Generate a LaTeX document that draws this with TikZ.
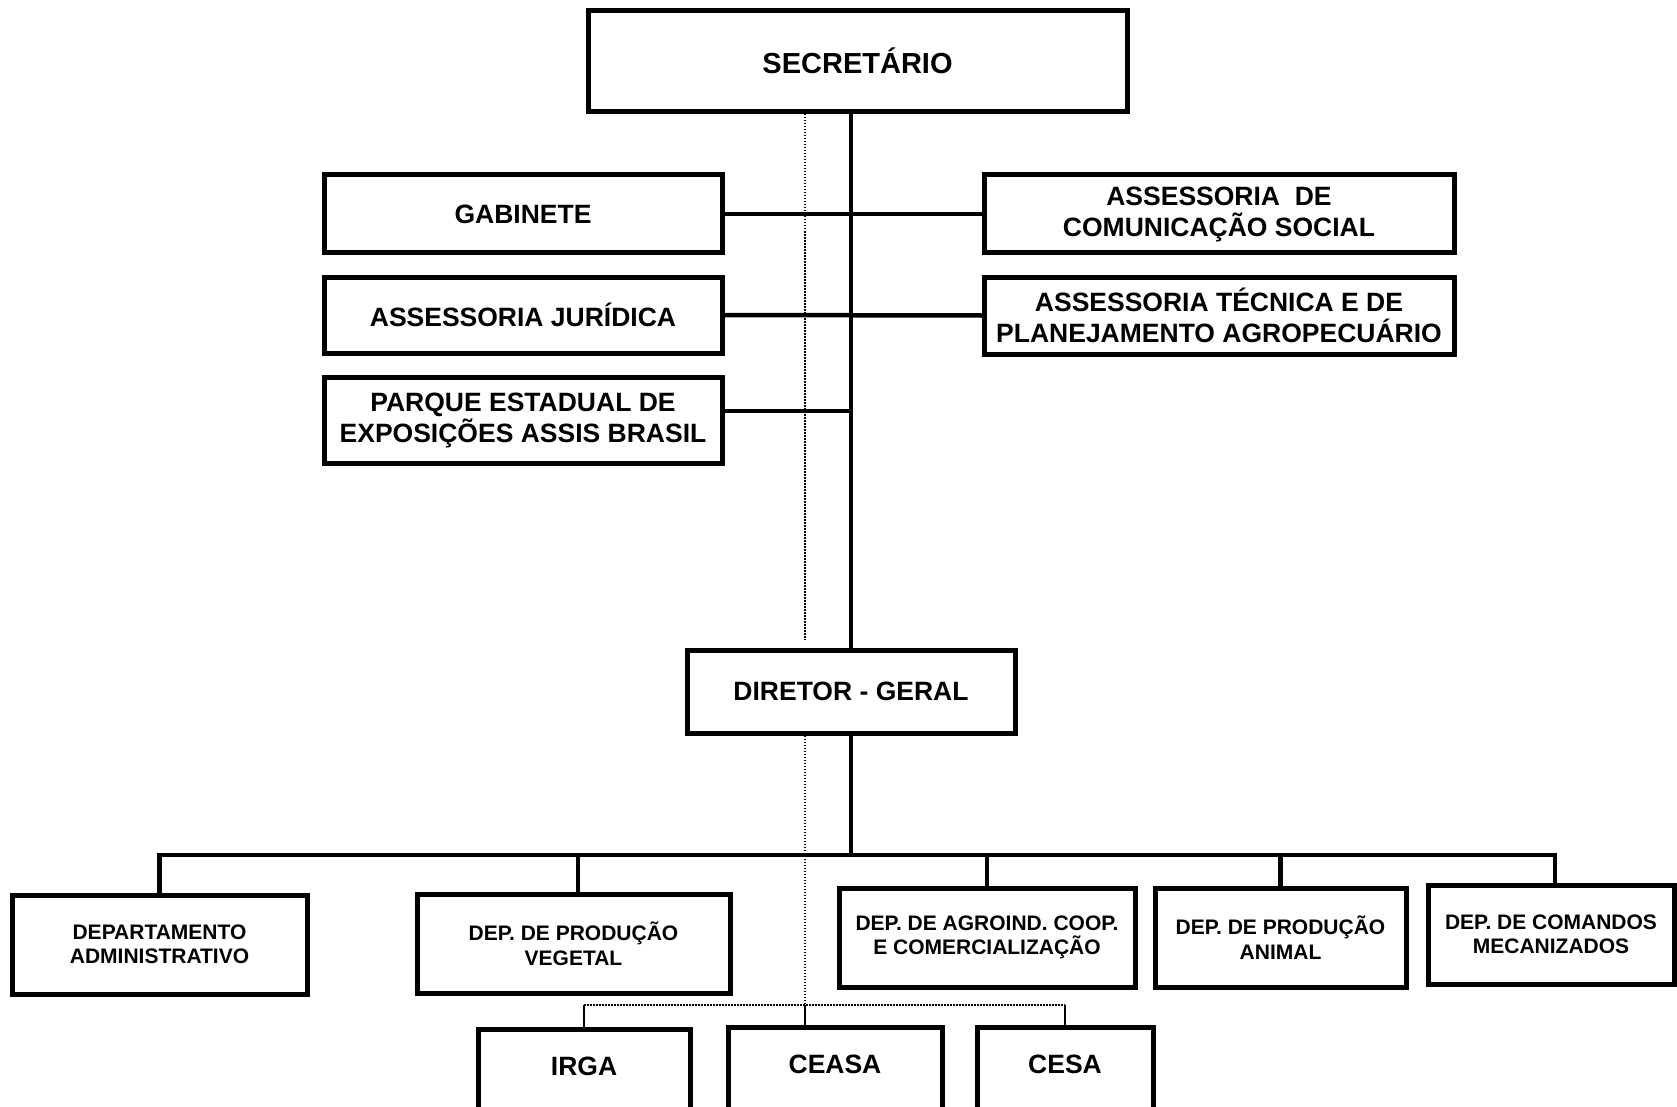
\documentclass[tikz,border=0pt]{standalone}
\usepackage{fontspec}
\setmainfont{Liberation Sans}
\begin{document}
\begin{tikzpicture}[x=1pt,y=-1pt,
  box/.style={draw, line width=5pt, fill=white, align=center, inner sep=0pt,
    font=\bfseries\fontsize{26.5}{31}\selectfont},
  dept/.style={box, font=\bfseries\fontsize{21}{24.5}\selectfont},
  unit/.style={box, anchor=north, minimum height=120pt, text height=19pt, text depth=47pt},
  link/.style={line width=4.5pt, line cap=rect},
  thinlink/.style={line width=1.5pt},
  dots/.style={line width=1.5pt, dash pattern=on 1.5pt off 1.5pt}]
\useasboundingbox (0,0) rectangle (1677,1107);
\clip (0,0) rectangle (1677,1107);

% top level
\node[box, minimum width=539pt, minimum height=101pt,
  font=\bfseries\fontsize{29}{34}\selectfont] (sec) at (857.5,61) {SECRETÁRIO};

% staff units
\node[box, minimum width=398pt, minimum height=78pt] (gab) at (523,214) {GABINETE};
\node[box, minimum width=398pt, minimum height=76pt] (jur) at (523,315) {ASSESSORIA JURÍDICA};
\node[box, minimum width=398pt, minimum height=86pt] (par) at (523,420)
  {PARQUE ESTADUAL DE\\EXPOSIÇÕES ASSIS BRASIL};
\node[box, minimum width=470pt, minimum height=78pt] (asc) at (1219,214)
  {ASSESSORIA\ \ DE\\COMUNICAÇÃO SOCIAL};
\node[box, minimum width=470pt, minimum height=77pt] (atp) at (1219,315.5)
  {ASSESSORIA TÉCNICA E DE\\PLANEJAMENTO AGROPECUÁRIO};

% director
\node[box, minimum width=328pt, minimum height=83pt] (dir) at (851,691.5) {DIRETOR - GERAL};

% departments
\node[dept, minimum width=295pt, minimum height=99pt] (adm) at (159.5,944.5)
  {DEPARTAMENTO\\ADMINISTRATIVO};
\node[dept, minimum width=313pt, minimum height=99pt] (veg) at (573.5,943.5)
  {DEP. DE PRODUÇÃO\\VEGETAL};
\node[dept, minimum width=296pt, minimum height=99pt] (agro) at (987,937.5)
  {DEP. DE AGROIND. COOP.\\E COMERCIALIZAÇÃO};
\node[dept, minimum width=251pt, minimum height=99pt] (anim) at (1280.5,937.5)
  {DEP. DE PRODUÇÃO\\ANIMAL};
\node[dept, minimum width=246pt, minimum height=99pt] (com) at (1551,934.5)
  {DEP. DE COMANDOS\\MECANIZADOS};

% linked entities
\node[unit, minimum width=212pt] (irga) at (584,1027) {IRGA};
\node[unit, minimum width=214pt] (ceasa) at (835,1025) {CEASA};
\node[unit, minimum width=176pt] (cesa) at (1065,1025) {CESA};

% dotted line of linked entities
\coordinate (dv) at (805,1005);
\draw[dots] (dv |- sec.south) -- ([yshift=8pt]dv |- dir.north);
\draw[dots] (dv |- dir.south) -- (dv);
\draw[dots] (irga.north |- dv) -- (cesa.north |- dv);
\draw[thinlink] (irga.north |- dv) -- (irga.north);
\draw[thinlink] (dv) -- (dv |- ceasa.north);
\draw[thinlink] (cesa.north |- dv) -- (cesa.north);

% hierarchy lines
\draw[link] (dir.north |- sec.south) -- (dir.north);
\draw[link] (gab.east) -- (asc.west);
\draw[link] (jur.east) -- (atp.west);
\draw[link] ([yshift=9pt]par.east) -- ([yshift=9pt]par.east -| dir.north);

\coordinate (busL) at (159,855);
\coordinate (busR) at (1555,855);
\draw[link] (dir.south) -- (dir.south |- busL);
\draw[link] (busL) -- (busR);
\draw[link] (adm.north |- busL) -- (adm.north);
\draw[link] ([xshift=4.5pt]veg.north |- busL) -- ([xshift=4.5pt]veg.north);
\draw[link] (agro.north |- busL) -- (agro.north);
\draw[link] (anim.north |- busL) -- (anim.north);
\draw[link] ([xshift=4pt]com.north |- busL) -- ([xshift=4pt]com.north);
\end{tikzpicture}
\end{document}
